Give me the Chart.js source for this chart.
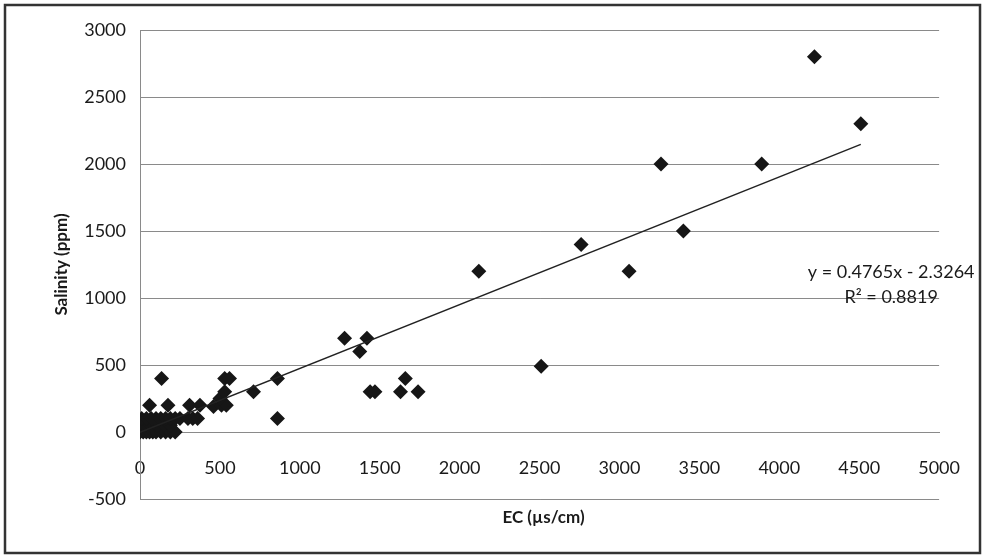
<!DOCTYPE html>
<html>
<head>
<meta charset="utf-8">
<script src="https://cdn.jsdelivr.net/npm/chart.js@4"></script>
<style>
  html, body { margin: 0; padding: 0; background: #fff; }
</style>
</head>
<body>
<canvas id="graficoSalinidade" width="985" height="559"></canvas>
<script>
// EC (µs/cm) x Salinity (ppm)
const ecValores = [
  0, 20, 40, 60, 80, 100, 130, 160, 190, 220,
  30, 70, 110, 150, 190,
  10, 40, 70, 100, 130, 160, 190, 220, 250, 300, 330, 360,
  60, 175, 310, 375, 460, 510, 540,
  500, 530, 710,
  135, 530, 560, 860,
  860,
  1440, 1470, 1630, 1740, 1660,
  1375, 1280, 1420,
  2510, 2120, 3060, 2760, 3400,
  3260, 3890, 4510, 4220
];
const salinidadeValores = [
  0, 0, 0, 0, 0, 0, 0, 0, 0, 0,
  50, 50, 50, 50, 50,
  100, 100, 100, 100, 100, 100, 100, 100, 100, 100, 100, 100,
  200, 200, 200, 200, 190, 200, 200,
  250, 300, 300,
  400, 400, 400, 400,
  100,
  300, 300, 300, 300, 400,
  600, 700, 700,
  490, 1200, 1200, 1400, 1500,
  2000, 2000, 2300, 2800
];

// linha de tendência (Excel)
const tendInclinacao = 0.4765;
const tendIntercepto = -2.3264;
const equacaoTexto = ["y = 0.4765x - 2.3264", "R² = 0.8819"];

const xTicks = [0, 500, 1000, 1500, 2000, 2500, 3000, 3500, 4000, 4500, 5000];
const yTicks = [-500, 0, 500, 1000, 1500, 2000, 2500, 3000];
const tituloX = "EC (µs/cm)";
const tituloY = "Salinity (ppm)";

const pontos = ecValores.map((x, i) => ({ x: x, y: salinidadeValores[i] }));
const xMin = Math.min(...ecValores);
const xMax = Math.max(...ecValores);
const tendencia = [
  { x: xMin, y: tendInclinacao * xMin + tendIntercepto },
  { x: xMax, y: tendInclinacao * xMax + tendIntercepto }
];

const FONTE = "Lato, 'Open Sans', sans-serif";

const extras = {
  id: "extras",
  beforeDraw(chart) {
    const ctx = chart.ctx;
    ctx.save();
    ctx.fillStyle = "#fff";
    ctx.fillRect(0, 0, chart.width, chart.height);
    ctx.restore();
  },
  afterDraw(chart) {
    const ctx = chart.ctx;
    const a = chart.chartArea;
    const sx = chart.scales.x;
    const sy = chart.scales.y;
    ctx.save();
    ctx.fillStyle = "#1a1a1a";
    ctx.textAlign = "center";
    ctx.textBaseline = "middle";

    // equação da tendência
    ctx.font = "18px " + FONTE;
    ctx.fillText(equacaoTexto[0], sx.getPixelForValue(4700), sy.getPixelForValue(1190));
    ctx.fillText(equacaoTexto[1], sx.getPixelForValue(4700), sy.getPixelForValue(1005));

    // títulos dos eixos
    ctx.font = "bold 17px " + FONTE;
    ctx.fillText(tituloX, (a.left + a.right) / 2 + 4, 518);
    ctx.translate(62, (a.top + a.bottom) / 2);
    ctx.rotate(-Math.PI / 2);
    ctx.fillText(tituloY, 0, 0);
    ctx.restore();

    // moldura
    ctx.save();
    ctx.strokeStyle = "#333";
    ctx.lineWidth = 2.5;
    ctx.strokeRect(5, 5, 975, 548);
    ctx.restore();
  }
};

new Chart(document.getElementById("graficoSalinidade").getContext("2d"), {
  type: "scatter",
  data: {
    datasets: [
      {
        label: "Salinity",
        data: pontos,
        pointStyle: "rectRot",
        pointRadius: 7.5,
        pointHoverRadius: 7.5,
        backgroundColor: "#161616",
        borderColor: "#161616",
        borderWidth: 0,
        order: 2
      },
      {
        type: "line",
        label: "Linear",
        data: tendencia,
        borderColor: "#222",
        borderWidth: 1.5,
        pointRadius: 0,
        fill: false,
        order: 1
      }
    ]
  },
  options: {
    responsive: false,
    animation: false,
    layout: { padding: { top: 30, right: 45, bottom: 60, left: 0 } },
    plugins: {
      legend: { display: false },
      tooltip: { enabled: false }
    },
    scales: {
      x: {
        type: "linear",
        position: { y: 0 },
        min: 0,
        max: 5000,
        afterBuildTicks: (scale) => { scale.ticks = xTicks.map((v) => ({ value: v })); },
        grid: { display: false, drawTicks: false },
        border: { display: true, color: "#8a8a8a" },
        ticks: {
          padding: 25,
          color: "#1a1a1a",
          font: { family: FONTE, size: 18 },
          callback: (v) => String(v)
        }
      },
      y: {
        type: "linear",
        min: -500,
        max: 3000,
        afterBuildTicks: (scale) => { scale.ticks = yTicks.map((v) => ({ value: v })); },
        afterFit: (scale) => { scale.width = 140; },
        grid: { color: "#8a8a8a", drawTicks: false },
        border: { display: true, color: "#8a8a8a" },
        ticks: {
          padding: 14,
          color: "#1a1a1a",
          font: { family: FONTE, size: 18 },
          callback: (v) => String(v)
        }
      }
    }
  },
  plugins: [extras]
});
</script>
</body>
</html>
